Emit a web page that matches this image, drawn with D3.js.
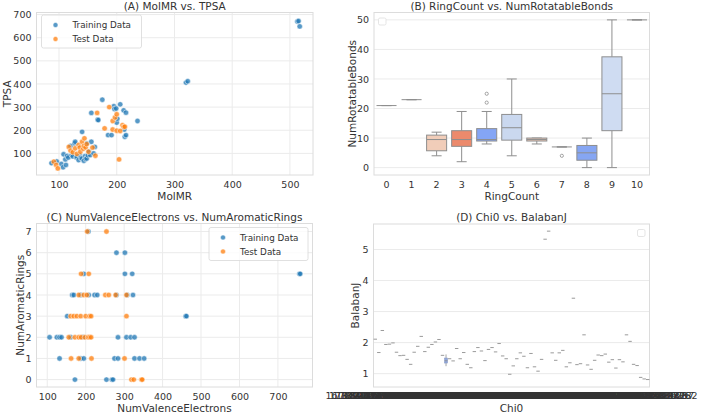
<!DOCTYPE html>
<html><head><meta charset="utf-8">
<script src="https://cdn.jsdelivr.net/npm/d3@7"></script>
<style>
body{margin:0;background:#fff}
text{font-family:"DejaVu Sans",sans-serif}
</style>
</head><body>
<svg id="chart" width="702" height="414"></svg>
<script>
// ---------- DATA ----------
// (A) MolMR vs TPSA
const trainA_molmr = [87,96,104,107,108,111,112,114,116,120,122,124,127,128,130,131,134,136,138,140,140,143,145,146,148,148,150,152,154,156,156,160,162,167,168,175,185,191,195,196,199,200,201,206,212,213,214,216,216,236,320,323,513,515,517];
const trainA_tpsa  = [58,65,54,40,96,74,50,89,82,132,93,87,143,150,82,85,71,92,80,193,78,68,88,76,78,143,92,108,93,150,275,100,128,246,244,332,179,179,304,292,294,233,250,312,286,203,172,276,179,240,406,412,670,672,649];
const testA_molmr  = [91,95,98,117,120,124,128,131,134,136,137,140,142,143,144,146,148,151,158,163,166,179,187,193,193,197,200,200,204,206,210,212,214];
const testA_tpsa   = [64,50,35,128,112,105,122,98,136,125,107,150,120,132,165,126,140,107,125,90,275,208,300,240,203,255,269,198,74,197,222,215,215];
const ticksA_x = [100,200,300,400,500];
const ticksA_y = [100,200,300,400,500,600,700];

// (B) RingCount vs NumRotatableBonds (box statistics)
const ringCount   = ["0","1","2","3","4","5","6","7","8","9","10"];
const boxQ1       = [21,23,5.7,7.2,9,9.3,9,7,2.5,12.5,50];
const boxMedian   = [21,23,9.5,9.5,9.5,13.5,9.5,7,5,25,50];
const boxQ3       = [21,23,11,12.5,13.2,18,10,7,7.5,37.5,50];
const whiskerLow  = [21,23,4,2,8,4,8,7,0,0,50];
const whiskerHigh = [21,23,12,19,19,30,10,7,10,50,50];
const boxOutliers = [[],[],[],[],[22,25],[],[],[4],[],[],[]];
const boxColors   = ["#d6d6d6","#d6d6d6","#f1cdb9","#ec8a6c","#84a5f5","#cad8ef","#efcab7","#d6d6d6","#86a6f3","#cfdcf2","#d6d6d6"];
const ticksB_y = [0,10,20,30,40,50];

// (C) NumValenceElectrons vs NumAromaticRings
const trainC_ve = [207,280,302,195,302,321,756,758,165,169,187,208,223,230,280,308,323,152,460,462,106,125,132,137,161,193,284,306,317,327,132,187,195,275,284,327,340,352,172,254,268,271];
const trainC_ar = [7,6,6,5,5,5,5,5,4,4,4,4,4,4,4,4,4,3,3,3,2,2,2,2,2,2,2,2,2,2,1,1,1,1,1,1,1,1,0,0,0,0];
const testC_ve  = [204,254,188,208,182,195,203,251,260,278,306,161,169,177,187,200,210,214,306,156,172,182,188,198,206,210,214,162,182,215,301,319,325,345,347];
const testC_ar  = [7,7,5,5,4,4,4,4,4,4,4,3,3,3,3,3,3,3,3,2,2,2,2,2,2,2,2,1,1,1,1,0,0,0,0];
const ticksC_x = [100,200,300,400,500,600,700];
const ticksC_y = [0,1,2,3,4,5,6,7];

// (D) Chi0 vs BalabanJ
const chi0Labels = ["16.30918345547345","17.05920835353095","17.48116728304577","18.02441938270591","18.44765327130928","18.91735422150367","19.36230848729604","19.70128411643305","20.14372910284637","20.56901377262119",
"20.98136420758214","21.27451963014836","21.65308734951472","22.08417362091583","22.49175308326947","22.87361045918204","23.15827439610528","23.60452817390164","24.02176359843071","24.38140625517393",
"24.81735294627418","25.19028473651906","25.63841207369251","26.02934718520637","26.41528306719345","26.88150472638901","27.23746182053914","27.69420318574625","28.10537294618372","28.49106357281947",
"28.93817264530918","29.31408526173649","29.75163948206735","30.20941635827413","30.62758103946251","31.04832961572049","31.47205839164728","31.90318462709154","32.35718206493715","32.81495370261839",
"33.26017483592634","33.69142805731926","34.15273680914253","34.62910457382691","35.08347162950318","35.54908213675402","36.01837594201367","36.52603918475126","37.04518269304715","37.61835720946281",
"38.19276403518627","38.70352816940572","39.26418507392164","39.80571364280519","40.37219840653271","40.96310572846193","41.52948306172945","42.13084529761039","42.70615293847162","43.31962708451398",
"43.94158273609548","44.58301927465821","45.21649308172546","45.87023615480397","46.54918370261584","47.23765109482617","47.95032816470293","48.68291734059162","49.43570162839451","50.21946308715248",
"51.02638175940623","51.86503927148369","52.74190362857014","53.66427105398261","54.62081593742168","55.61938427051736","56.67204185930257","57.78306111193282"];
const balabanJ = [2.11,1.68,2.39,1.94,1.95,1.99,1.69,1.58,1.59,1.46,1.30,1.69,1.88,2.20,1.71,1.85,1.94,2.02,2.10,1.59,
[1.24,1.33,1.38,1.45,1.52,1.62],1.48,1.41,1.81,1.48,1.68,1.30,1.19,1.71,1.84,1.73,1.42,1.78,1.84,1.70,1.97,1.57,1.48,0.98,1.25,
1.48,1.67,1.56,1.19,1.65,1.22,1.08,1.46,5.33,5.59,1.67,1.43,1.67,1.75,1.22,1.35,3.43,1.29,1.32,2.25,
1.28,1.14,1.43,1.60,1.58,1.63,1.37,1.45,1.18,1.45,1.38,2.25,2.04,1.30,1.26,0.88,0.83,0.81];
const ticksD_y = [1,2,3,4,5];

// ---------- DRAWING ----------
const svg = d3.select("#chart");
const TXT = "#333333", GRID = "#ebebeb", SPINE = "#dcdcdc";
const BLUE = "#1f77b4", ORANGE = "#ff7f0e";
const TICKFS = 9.5, LABFS = 10.5, TITLEFS = 10.5, LEGFS = 8.8;

function frame(p){
  return svg.append("g");
}
function yAxis(g, p, y, ticks, fmt){
  g.append("g").selectAll("line").data(ticks).join("line")
    .attr("x1",p.l).attr("x2",p.r).attr("y1",d=>y(d)).attr("y2",d=>y(d))
    .attr("stroke",GRID).attr("stroke-width",1);
  const ax = g.append("g").attr("transform",`translate(${p.l},0)`)
    .call(d3.axisLeft(y).tickValues(ticks).tickSize(0).tickPadding(5).tickFormat(fmt||d3.format("d")));
  ax.select(".domain").remove();
  ax.selectAll("text").attr("fill",TXT).style("font-size",TICKFS+"px").style("font-family","DejaVu Sans");
}
function xAxisLinear(g, p, x, ticks){
  g.append("g").selectAll("line").data(ticks).join("line")
    .attr("y1",p.t).attr("y2",p.b).attr("x1",d=>x(d)).attr("x2",d=>x(d))
    .attr("stroke",GRID).attr("stroke-width",1);
  const ax = g.append("g").attr("transform",`translate(0,${p.b})`)
    .call(d3.axisBottom(x).tickValues(ticks).tickSize(0).tickPadding(6.5).tickFormat(d3.format("d")));
  ax.select(".domain").remove();
  ax.selectAll("text").attr("fill",TXT).style("font-size",TICKFS+"px").style("font-family","DejaVu Sans");
}
function spines(g,p){
  g.append("rect").attr("x",p.l).attr("y",p.t).attr("width",p.r-p.l).attr("height",p.b-p.t)
    .attr("fill","none").attr("stroke",SPINE).attr("stroke-width",1);
}
function labels(g,p,title,xl,yl,ylx){
  const cx=(p.l+p.r)/2;
  g.append("text").attr("x",cx).attr("y",p.t-3).attr("text-anchor","middle")
    .attr("fill",TXT).style("font-size",TITLEFS+"px").text(title);
  g.append("text").attr("x",cx).attr("y",p.b+25).attr("text-anchor","middle")
    .attr("fill",TXT).style("font-size",LABFS+"px").text(xl);
  g.append("text").attr("transform",`translate(${ylx},${(p.t+p.b)/2}) rotate(-90)`).attr("text-anchor","middle")
    .attr("fill",TXT).style("font-size",LABFS+"px").text(yl);
}
function scatter(g,x,y,xs,ys,color){
  g.append("g").selectAll("circle").data(xs.map((v,i)=>[v,ys[i]])).join("circle")
    .attr("cx",d=>x(d[0])).attr("cy",d=>y(d[1])).attr("r",2.7)
    .attr("fill",color).attr("fill-opacity",0.75).attr("stroke","#fff").attr("stroke-width",0.5);
}
function legend(g,lx,ly,w,h){
  g.append("rect").attr("x",lx).attr("y",ly).attr("width",w).attr("height",h).attr("rx",2)
    .attr("fill","#fff").attr("fill-opacity",0.8).attr("stroke","#d8d8d8").attr("stroke-width",0.8);
  [["Training Data",BLUE],["Test Data",ORANGE]].forEach((e,i)=>{
    const yy = ly+10+i*14;
    g.append("circle").attr("cx",lx+14).attr("cy",yy).attr("r",2.5).attr("fill",e[1]).attr("fill-opacity",0.75)
      .attr("stroke","#fff").attr("stroke-width",0.5);
    g.append("text").attr("x",lx+31).attr("y",yy+3.2).attr("fill",TXT).style("font-size",LEGFS+"px").text(e[0]);
  });
}
function emptyLegend(g,x,y){
  g.append("rect").attr("x",x).attr("y",y).attr("width",7.5).attr("height",7).attr("rx",1.5)
    .attr("fill","#fff").attr("stroke","#dedede").attr("stroke-width",0.8);
}

// ---- Panel A ----
{
  const p={l:36.5,t:12.5,r:313,b:175};
  const g=svg.append("g");
  const x=d3.scaleLinear().domain([61,540]).range([p.l,p.r]);
  const y=d3.scaleLinear().domain([6.5,709]).range([p.b,p.t]);
  yAxis(g,p,y,ticksA_y); xAxisLinear(g,p,x,ticksA_x); spines(g,p);
  scatter(g,x,y,trainA_molmr,trainA_tpsa,BLUE);
  scatter(g,x,y,testA_molmr,testA_tpsa,ORANGE);
  legend(g,41.5,15,100,33);
  labels(g,p,"(A) MolMR vs. TPSA","MolMR","TPSA",10.5);
}

// ---- Panel B ----
{
  const p={l:374,t:12.5,r:649.5,b:175};
  const g=svg.append("g");
  const x=d3.scaleBand().domain(ringCount).range([p.l,p.r]);
  const y=d3.scaleLinear().domain([-2.5,52.5]).range([p.b,p.t]);
  yAxis(g,p,y,ticksB_y);
  const ax=g.append("g").attr("transform",`translate(0,${p.b})`).call(d3.axisBottom(x).tickSize(0).tickPadding(6.5));
  ax.select(".domain").remove();
  ax.selectAll("text").attr("fill",TXT).style("font-size",TICKFS+"px").style("font-family","DejaVu Sans");
  spines(g,p);
  const bw=x.bandwidth()*0.8, LC="#8e8e8e";
  ringCount.forEach((c,i)=>{
    const cx=x(c)+x.bandwidth()/2;
    const bg=g.append("g");
    // whiskers
    bg.append("line").attr("x1",cx).attr("x2",cx).attr("y1",y(whiskerLow[i])).attr("y2",y(boxQ1[i])).attr("stroke",LC).attr("stroke-width",1);
    bg.append("line").attr("x1",cx).attr("x2",cx).attr("y1",y(boxQ3[i])).attr("y2",y(whiskerHigh[i])).attr("stroke",LC).attr("stroke-width",1);
    [whiskerLow[i],whiskerHigh[i]].forEach(v=>{
      bg.append("line").attr("x1",cx-bw/4).attr("x2",cx+bw/4).attr("y1",y(v)).attr("y2",y(v)).attr("stroke",LC).attr("stroke-width",1);
    });
    bg.append("rect").attr("x",cx-bw/2).attr("width",bw)
      .attr("y",y(boxQ3[i])).attr("height",Math.max(0,y(boxQ1[i])-y(boxQ3[i])))
      .attr("fill",boxColors[i]).attr("stroke",LC).attr("stroke-width",1);
    bg.append("line").attr("x1",cx-bw/2).attr("x2",cx+bw/2).attr("y1",y(boxMedian[i])).attr("y2",y(boxMedian[i])).attr("stroke",LC).attr("stroke-width",1);
    boxOutliers[i].forEach(v=>{
      bg.append("circle").attr("cx",cx).attr("cy",y(v)).attr("r",1.6).attr("fill","none").attr("stroke",LC).attr("stroke-width",0.8);
    });
  });
  emptyLegend(g,378.5,18);
  labels(g,p,"(B) RingCount vs. NumRotatableBonds","RingCount","NumRotatableBonds",356);
}

// ---- Panel C ----
{
  const p={l:36.5,t:223.5,r:312.5,b:387};
  const g=svg.append("g");
  const x=d3.scaleLinear().domain([72,790]).range([p.l,p.r]);
  const y=d3.scaleLinear().domain([-0.35,7.38]).range([p.b,p.t]);
  yAxis(g,p,y,ticksC_y); xAxisLinear(g,p,x,ticksC_x); spines(g,p);
  scatter(g,x,y,trainC_ve,trainC_ar,BLUE);
  scatter(g,x,y,testC_ve,testC_ar,ORANGE);
  legend(g,209,227.5,99,33);
  labels(g,p,"(C) NumValenceElectrons vs. NumAromaticRings","NumValenceElectrons","NumAromaticRings",23.5);
}

// ---- Panel D ----
{
  const p={l:373.5,t:224,r:649.5,b:387};
  const g=svg.append("g");
  const x=d3.scaleBand().domain(chi0Labels).range([p.l,p.r]);
  const y=d3.scaleLinear().domain([0.57,5.82]).range([p.b,p.t]);
  yAxis(g,p,y,ticksD_y);
  const ax=g.append("g").attr("transform",`translate(0,${p.b})`).call(d3.axisBottom(x).tickSize(0).tickPadding(5.5));
  ax.select(".domain").remove();
  ax.selectAll("text").attr("fill",TXT).style("font-size",TICKFS+"px").style("font-family","DejaVu Sans");
  spines(g,p);
  const bw=x.bandwidth()*0.8, LC="#8e8e8e";
  chi0Labels.forEach((c,i)=>{
    const cx=x(c)+x.bandwidth()/2;
    const v=balabanJ[i];
    if(Array.isArray(v)){
      const s=v.slice().sort(d3.ascending);
      const q1=d3.quantile(s,0.25), q3=d3.quantile(s,0.75), md=d3.median(s);
      g.append("line").attr("x1",cx).attr("x2",cx).attr("y1",y(s[0])).attr("y2",y(s[s.length-1])).attr("stroke",LC).attr("stroke-width",0.8);
      g.append("rect").attr("x",cx-bw/2).attr("width",bw).attr("y",y(q3)).attr("height",y(q1)-y(q3))
        .attr("fill","#8fa7dc").attr("stroke","#8a9cc8").attr("stroke-width",0.6);
      g.append("line").attr("x1",cx-bw/2).attr("x2",cx+bw/2).attr("y1",y(md)).attr("y2",y(md)).attr("stroke",LC).attr("stroke-width",0.8);
    } else {
      g.append("line").attr("x1",cx-bw/2-0.3).attr("x2",cx+bw/2+0.3).attr("y1",y(v)).attr("y2",y(v)).attr("stroke","#9a9a9a").attr("stroke-width",1);
    }
  });
  emptyLegend(g,637.5,229.5);
  labels(g,p,"(D) Chi0 vs. BalabanJ","Chi0","BalabanJ",359);
}
</script>
</body></html>
